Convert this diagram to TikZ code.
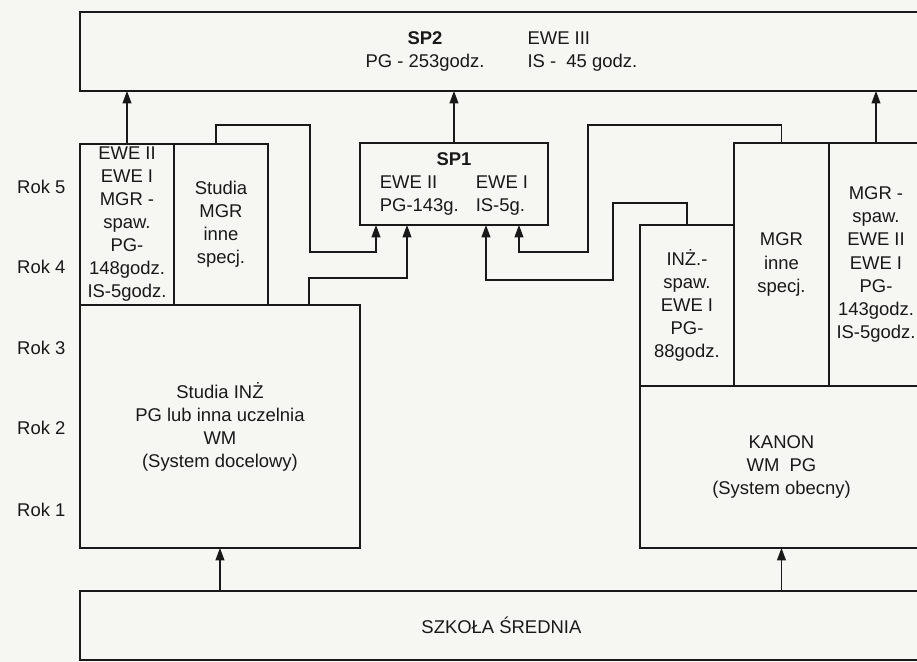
\documentclass[tikz,border=0pt]{standalone}
\usepackage{fontspec}
\setmainfont{Liberation Sans}
\usepackage{tikz}
\usetikzlibrary{arrows.meta,positioning}

\definecolor{paper}{RGB}{246,246,243}
\definecolor{ink}{RGB}{25,25,25}

\begin{document}
\begin{tikzpicture}[
    x=0.02cm, y=-0.02cm,
    font=\fontsize{10.5}{13.1}\selectfont,
    box/.style={draw=ink, line width=1.5pt, inner sep=0pt, outer sep=0pt, anchor=north west, align=center, text=ink},
    col/.style={box, minimum width=1.88cm},
    rok/.style={anchor=west, text=ink},
    arrow/.style={-{Triangle[width=5pt,length=7pt]}, draw=ink, line width=0.8pt}
]

\path[use as bounding box, fill=paper] (0,0) rectangle (917,662);

% Top level: SP2
\node[box, minimum width=16.86cm, minimum height=1.58cm] (sp2) at (80,12) {\begin{tabular}{@{}c@{\hspace{0.86cm}}l@{}}
\textbf{SP2} & EWE III\\
PG - 253godz. & IS -\ \ 45 godz.
\end{tabular}};

% SP1 in the middle
\node[box, minimum width=3.76cm, minimum height=1.64cm] (sp1) at (360,143) {\begin{tabular}{@{}l@{\hspace{0.34cm}}l@{}}
\multicolumn{2}{c}{\textbf{SP1}}\\
EWE II & EWE I\\
PG-143g. & IS-5g.
\end{tabular}};

% Left: system docelowy
\node[col, minimum height=3.22cm] (ewe) at (80,144) {EWE II\\EWE I\\MGR -\\spaw.\\PG-\\148godz.\\IS-5godz.};
\node[col, minimum height=3.22cm] (mgrl) at (174,144) {Studia\\MGR\\inne\\specj.};
\node[box, minimum width=5.6cm, minimum height=4.86cm] (inz) at (80,305) {Studia INŻ\\PG lub inna uczelnia\\WM\\(System docelowy)};

% Right: system obecny
\node[col, minimum height=3.22cm] (inzs) at (640,225) {INŻ.-\\spaw.\\EWE I\\PG-\\88godz.};
\node[col, minimum width=1.9cm, minimum height=4.86cm] (mgri) at (734,143) {MGR\\inne\\specj.};
\node[col, minimum height=4.86cm] (mgrs) at (829,143) {MGR -\\spaw.\\EWE II\\EWE I\\PG-\\143godz.\\IS-5godz.};
\node[box, minimum width=5.66cm, minimum height=3.24cm] (kanon) at (640,386) {KANON\\WM\ \ PG\\(System obecny)};

% Bottom
\node[box, minimum width=16.86cm, minimum height=1.38cm] (szkola) at (80,591) {SZKOŁA ŚREDNIA};

% Years
\node[rok] (rok5) at (11,187) {Rok 5};
\node[rok] (rok4) at (11,267) {Rok 4};
\node[rok] (rok3) at (11,348) {Rok 3};
\node[rok] (rok2) at (11,428) {Rok 2};
\node[rok] (rok1) at (11,510) {Rok 1};

% Straight arrows
\draw[arrow] (szkola.north -| inz.south) -- (inz.south);
\draw[arrow] (szkola.north -| kanon.south) -- (kanon.south);
\draw[arrow] (ewe.north) -- (ewe.north |- sp2.south);
\draw[arrow] (sp1.north) -- (sp1.north |- sp2.south);
\draw[arrow] (mgrs.north) -- (mgrs.north |- sp2.south);

% Routed wires into SP1
\coordinate (w1) at (310,252);
\coordinate (w2) at (613,280);
\coordinate (w3) at (588,252);
\draw[arrow] ([xshift=-0.1cm]mgrl.north) -- ++(0,-19) -| (w1) -| ([xshift=0.32cm]sp1.south west);
\draw[arrow] ([xshift=-1.02cm]inz.north east) -- ++(0,-27) -| ([xshift=0.94cm]sp1.south west);
\draw[arrow] (inzs.north) -- ++(0,-22) -| (w2) -| ([xshift=-1.24cm]sp1.south east);
\draw[arrow] (mgri.north) -- ++(0,-18) -| (w3) -| ([xshift=-0.58cm]sp1.south east);

\end{tikzpicture}
\end{document}
